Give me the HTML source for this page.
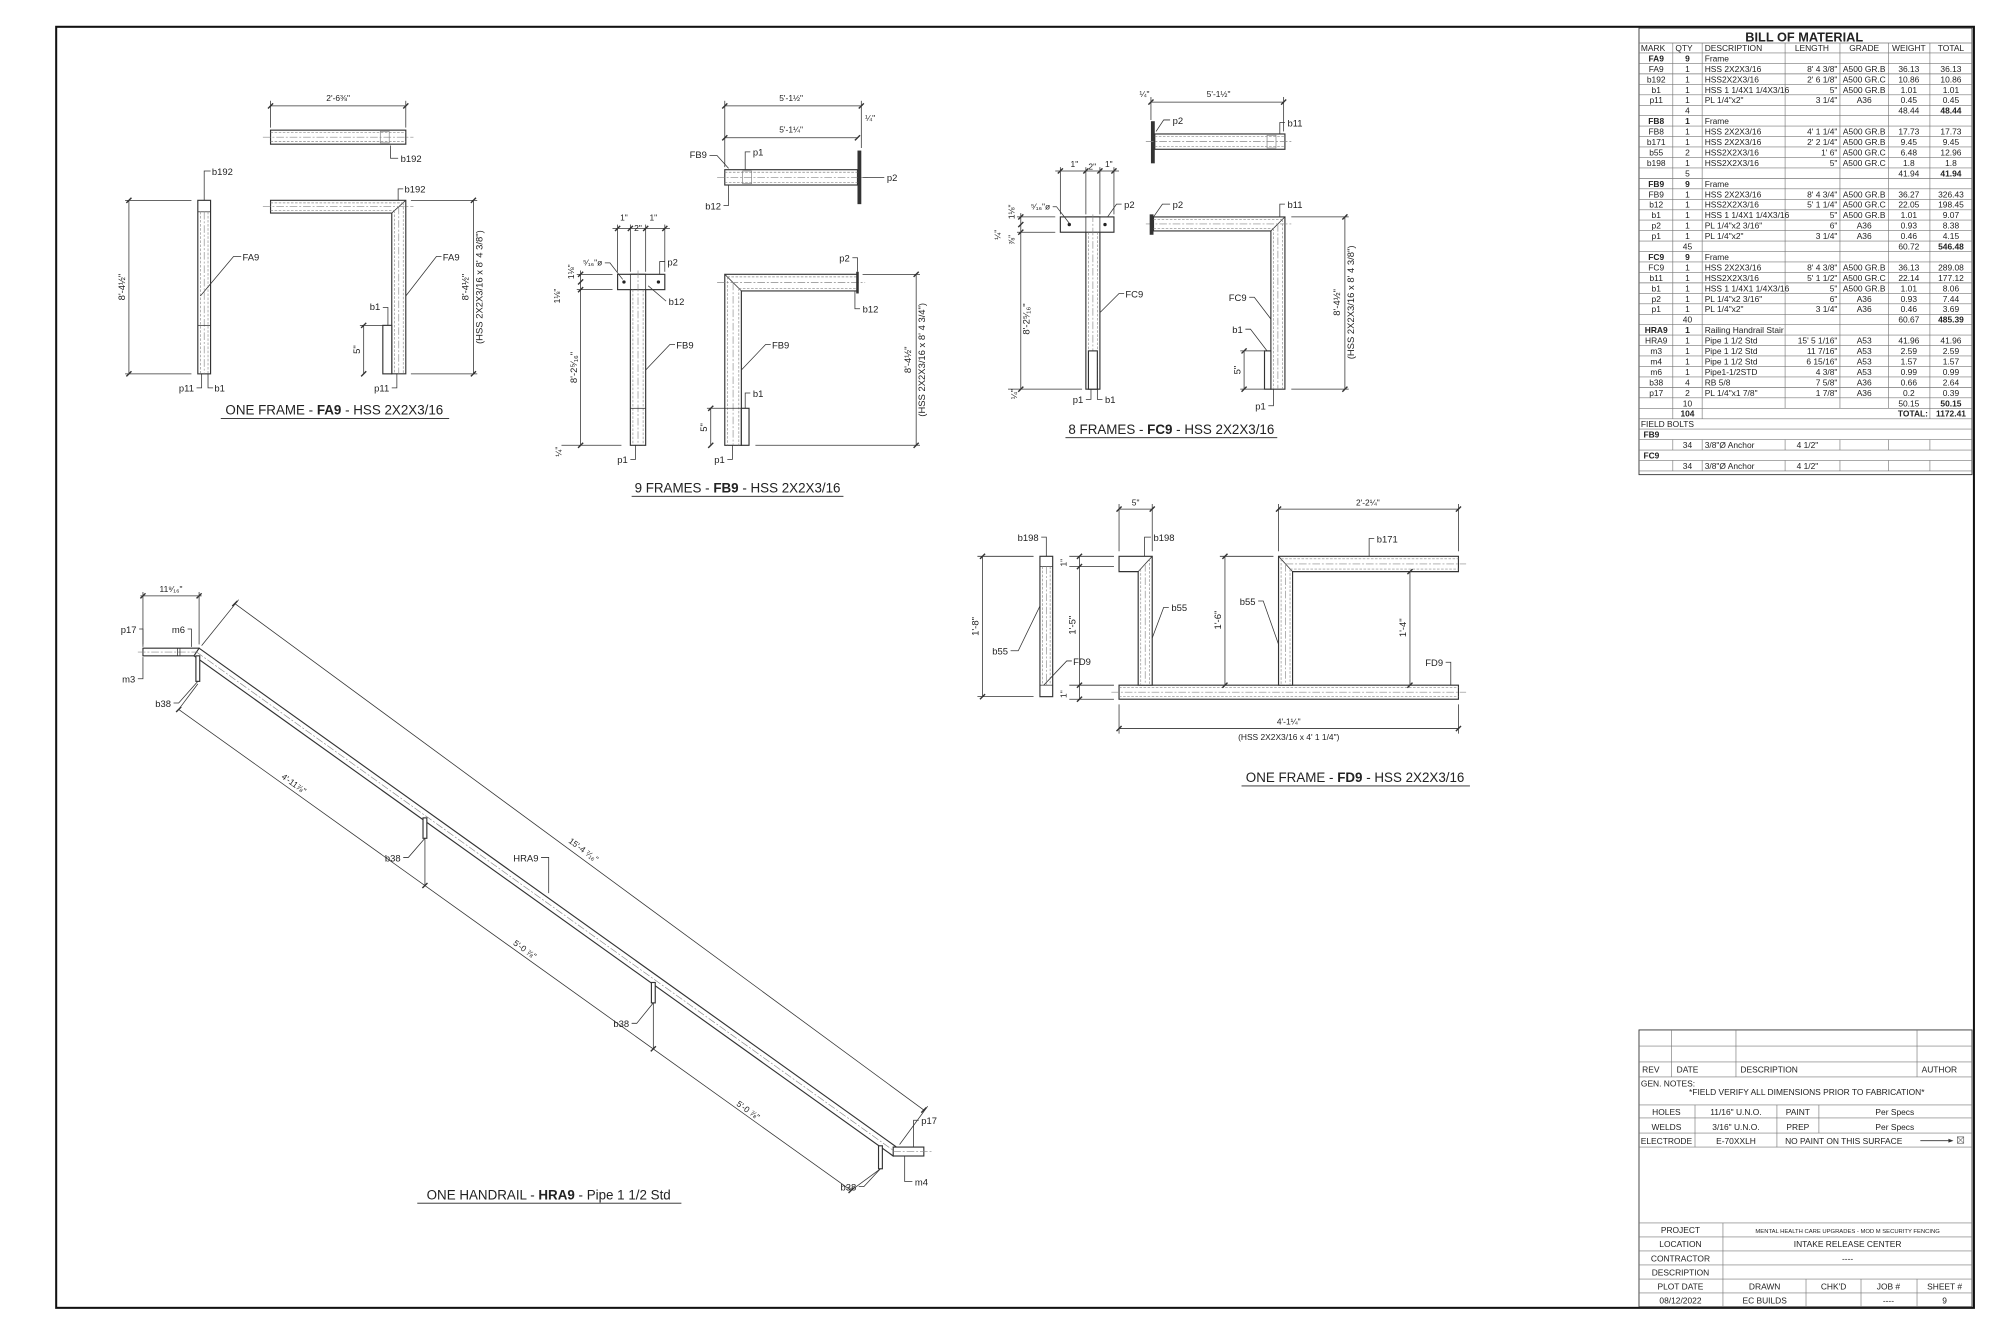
<!DOCTYPE html>
<html><head><meta charset="utf-8"><style>
html,body{margin:0;padding:0;background:#fff;}
svg{display:block}
text{font-family:"Liberation Sans",sans-serif;fill:#222}
.l{stroke:#333;stroke-width:.6;fill:none}
.m{stroke:#333;stroke-width:.9;fill:#fff}
.d{stroke:#888;stroke-width:.5;fill:none;stroke-dasharray:2 1.2}
.c{stroke:#888;stroke-width:.5;fill:none;stroke-dasharray:6 1.5 1.5 1.5}
.t{font-size:7.4px}
.s{font-size:6.6px}
.ti{font-size:10.5px}
.g{stroke:#777;stroke-width:.5;fill:none}
.b{font-size:6.6px}
.bb{font-size:6.6px;font-weight:bold}
.k{stroke:#333;stroke-width:1.1}
</style></head><body>
<svg width="2000" height="1334" viewBox="0 0 1567.4 1045.5" xmlns="http://www.w3.org/2000/svg">
<rect x="44" y="21" width="1503" height="1004" fill="none" stroke="#111" stroke-width="1.6"/>

<!-- ================= FA9 ================= -->
<g>
<line class="l" x1="212" y1="83" x2="318" y2="83"/>
<line class="l" x1="212" y1="79" x2="212" y2="100"/><line class="l" x1="318" y1="79" x2="318" y2="100"/>
<line class="k" x1="210" y1="85" x2="214" y2="81"/><line class="k" x1="316" y1="85" x2="320" y2="81"/>
<text class="s" x="265" y="79" text-anchor="middle">2'-6⅜"</text>
<rect class="m" x="212" y="102" width="106" height="11"/>
<line class="d" x1="212" y1="104" x2="318" y2="104"/><line class="d" x1="212" y1="111" x2="318" y2="111"/>
<line class="c" x1="206" y1="107.5" x2="324" y2="107.5"/>
<rect class="g" x="298" y="103" width="7" height="9"/>
<polyline class="l" points="306,114 306,124 312,124"/><text class="t" x="314" y="127">b192</text>

<rect class="m" x="155" y="157" width="10" height="136"/>
<line class="l" x1="155" y1="166" x2="165" y2="166"/>
<line class="d" x1="157" y1="166" x2="157" y2="293"/><line class="d" x1="163" y1="166" x2="163" y2="293"/>
<line class="c" x1="160" y1="166" x2="160" y2="293"/>
<line class="l" x1="155" y1="255" x2="165" y2="255"/>
<line class="l" x1="101" y1="157" x2="101" y2="293"/>
<line class="l" x1="98" y1="157" x2="150" y2="157"/><line class="l" x1="98" y1="293" x2="150" y2="293"/>
<line class="k" x1="99" y1="159" x2="103" y2="155"/><line class="k" x1="99" y1="295" x2="103" y2="291"/>
<text class="t" transform="translate(98,225) rotate(-90)" text-anchor="middle">8'-4½"</text>
<polyline class="l" points="160,157 160,134 165,134"/><text class="t" x="166" y="137">b192</text>
<polyline class="l" points="157,232 183,201 189,201"/><text class="t" x="190" y="204">FA9</text>
<polyline class="l" points="158,293 158,304 154,304"/><text class="t" x="152" y="307" text-anchor="end">p11</text>
<polyline class="l" points="163,293 163,304 167,304"/><text class="t" x="168" y="307">b1</text>

<path class="m" d="M212,157 H318 V293 H307 V167 H212 Z"/>
<line class="l" x1="307" y1="167" x2="318" y2="157"/>
<line class="d" x1="212" y1="159" x2="316" y2="159"/><line class="d" x1="212" y1="165" x2="309" y2="165"/>
<line class="d" x1="309" y1="165" x2="309" y2="293"/><line class="d" x1="316" y1="159" x2="316" y2="293"/>
<line class="c" x1="206" y1="162" x2="324" y2="162"/><line class="c" x1="312.5" y1="162" x2="312.5" y2="293"/>
<rect class="m" x="300" y="255" width="7" height="38"/>
<line class="l" x1="371" y1="157" x2="371" y2="293"/>
<line class="l" x1="322" y1="157" x2="374" y2="157"/><line class="l" x1="322" y1="293" x2="374" y2="293"/>
<line class="k" x1="369" y1="159" x2="373" y2="155"/><line class="k" x1="369" y1="295" x2="373" y2="291"/>
<text class="t" transform="translate(367,225) rotate(-90)" text-anchor="middle">8'-4½"</text>
<text class="t" transform="translate(378,225) rotate(-90)" text-anchor="middle">(HSS 2X2X3/16 x 8' 4 3/8")</text>
<line class="l" x1="285" y1="255" x2="285" y2="293"/>
<line class="l" x1="282" y1="255" x2="300" y2="255"/>
<line class="k" x1="283" y1="257" x2="287" y2="253"/><line class="k" x1="283" y1="295" x2="287" y2="291"/>
<text class="t" transform="translate(282,274) rotate(-90)" text-anchor="middle">5"</text>
<polyline class="l" points="312,157 312,148 316,148"/><text class="t" x="317" y="151">b192</text>
<polyline class="l" points="318,232 342,201 346,201"/><text class="t" x="347" y="204">FA9</text>
<polyline class="l" points="304,255 304,241 300,241"/><text class="t" x="298" y="243" text-anchor="end">b1</text>
<polyline class="l" points="311,293 311,304 307,304"/><text class="t" x="305" y="307" text-anchor="end">p11</text>
<text class="ti" x="262" y="325" text-anchor="middle">ONE FRAME - <tspan font-weight="bold">FA9</tspan> - HSS 2X2X3/16</text>
<line x1="173" y1="328" x2="352" y2="328" stroke="#222" stroke-width=".7"/>
</g>

<!-- ================= FB9 ================= -->
<g>
<line class="l" x1="568" y1="83" x2="675" y2="83"/><line class="l" x1="568" y1="108" x2="672" y2="108"/>
<line class="l" x1="568" y1="79" x2="568" y2="131"/><line class="l" x1="675" y1="79" x2="675" y2="116"/>
<line class="k" x1="566" y1="85" x2="570" y2="81"/><line class="k" x1="673" y1="85" x2="677" y2="81"/>
<line class="k" x1="566" y1="110" x2="570" y2="106"/><line class="k" x1="670" y1="110" x2="674" y2="106"/>
<text class="s" x="620" y="79" text-anchor="middle">5'-1½"</text>
<text class="s" x="620" y="104" text-anchor="middle">5'-1¼"</text>
<text class="s" x="678" y="95">¼"</text>
<rect class="m" x="568" y="133" width="104" height="12"/>
<line class="d" x1="568" y1="135" x2="672" y2="135"/><line class="d" x1="568" y1="143" x2="672" y2="143"/>
<line class="c" x1="562" y1="139" x2="680" y2="139"/>
<rect class="g" x="582" y="134" width="7" height="10"/>
<rect x="672" y="118" width="3" height="42" fill="#333"/>
<polyline class="l" points="571,132 562,122 556,122"/><text class="t" x="554" y="124" text-anchor="end">FB9</text>
<polyline class="l" points="584,133 584,119 588,119"/><text class="t" x="590" y="122">p1</text>
<polyline class="l" points="571,145 571,161 567,161"/><text class="t" x="565" y="164" text-anchor="end">b12</text>
<polyline class="l" points="676,139 693,139"/><text class="t" x="695" y="142">p2</text>

<rect class="m" x="494" y="215" width="12" height="134"/>
<rect class="m" x="484" y="215" width="37" height="12"/>
<line class="l" x1="494" y1="215" x2="494" y2="227"/><line class="l" x1="506" y1="215" x2="506" y2="227"/>
<line class="d" x1="496" y1="227" x2="496" y2="349"/><line class="d" x1="504" y1="227" x2="504" y2="349"/>
<line class="c" x1="500" y1="212" x2="500" y2="349"/>
<line class="l" x1="494" y1="320" x2="506" y2="320"/>
<circle cx="489" cy="221" r="1.3" fill="#222"/><circle cx="516" cy="221" r="1.3" fill="#222"/>
<line class="l" x1="480" y1="179" x2="525" y2="179"/>
<line class="l" x1="484" y1="176" x2="484" y2="213"/><line class="l" x1="494" y1="176" x2="494" y2="213"/>
<line class="l" x1="506" y1="176" x2="506" y2="213"/><line class="l" x1="521" y1="176" x2="521" y2="213"/>
<line class="k" x1="482" y1="181" x2="486" y2="177"/><line class="k" x1="492" y1="181" x2="496" y2="177"/>
<line class="k" x1="504" y1="181" x2="508" y2="177"/><line class="k" x1="519" y1="181" x2="523" y2="177"/>
<text class="s" x="489" y="173" text-anchor="middle">1"</text><text class="s" x="500" y="181" text-anchor="middle">2"</text><text class="s" x="512" y="173" text-anchor="middle">1"</text>
<line class="l" x1="455" y1="212" x2="455" y2="349"/>
<line class="l" x1="452" y1="215" x2="480" y2="215"/><line class="l" x1="452" y1="227" x2="480" y2="227"/><line class="l" x1="440" y1="349" x2="487" y2="349"/>
<line class="k" x1="453" y1="217" x2="457" y2="213"/><line class="k" x1="453" y1="223" x2="457" y2="219"/><line class="k" x1="453" y1="229" x2="457" y2="225"/><line class="k" x1="453" y1="351" x2="457" y2="347"/>
<text class="s" transform="translate(450,213) rotate(-90)" text-anchor="middle">1⅛"</text>
<text class="s" transform="translate(439,232) rotate(-90)" text-anchor="middle">1⅛"</text>
<text class="t" transform="translate(452,288) rotate(-90)" text-anchor="middle">8'-2⁵⁄₁₆"</text>
<text class="s" transform="translate(440,354) rotate(-90)" text-anchor="middle">¼"</text>
<polyline class="l" points="488,219 478,206 474,206"/><text class="s" x="472" y="208" text-anchor="end">⁵⁄₁₆"ø</text>
<polyline class="l" points="517,215 517,205 521,205"/><text class="t" x="523" y="208">p2</text>
<polyline class="l" points="508,224 522,236"/><text class="t" x="524" y="239">b12</text>
<polyline class="l" points="506,290 525,270 529,270"/><text class="t" x="530" y="273">FB9</text>
<polyline class="l" points="498,349 498,360 494,360"/><text class="t" x="492" y="363" text-anchor="end">p1</text>

<path class="m" d="M568,215 H672 V228 H581 V349 H568 Z"/>
<line class="l" x1="568" y1="215" x2="581" y2="228"/>
<line class="d" x1="570" y1="217" x2="672" y2="217"/><line class="d" x1="579" y1="226" x2="672" y2="226"/>
<line class="d" x1="570" y1="217" x2="570" y2="349"/><line class="d" x1="579" y1="226" x2="579" y2="349"/>
<line class="c" x1="562" y1="221.5" x2="678" y2="221.5"/><line class="c" x1="574.5" y1="221.5" x2="574.5" y2="349"/>
<rect x="671" y="213" width="2" height="17" fill="#333"/>
<rect class="m" x="581" y="320" width="6" height="29"/>
<line class="l" x1="718" y1="215" x2="718" y2="349"/>
<line class="l" x1="676" y1="215" x2="721" y2="215"/><line class="l" x1="592" y1="349" x2="721" y2="349"/>
<line class="k" x1="716" y1="217" x2="720" y2="213"/><line class="k" x1="716" y1="351" x2="720" y2="347"/>
<text class="t" transform="translate(714,282) rotate(-90)" text-anchor="middle">8'-4½"</text>
<text class="t" transform="translate(725,282) rotate(-90)" text-anchor="middle">(HSS 2X2X3/16 x 8' 4 3/4")</text>
<line class="l" x1="557" y1="320" x2="557" y2="349"/><line class="l" x1="554" y1="320" x2="581" y2="320"/>
<line class="k" x1="555" y1="322" x2="559" y2="318"/><line class="k" x1="555" y1="351" x2="559" y2="347"/>
<text class="t" transform="translate(554,335) rotate(-90)" text-anchor="middle">5"</text>
<polyline class="l" points="672,213 672,202 668,202"/><text class="t" x="666" y="205" text-anchor="end">p2</text>
<polyline class="l" points="670,228 670,242 674,242"/><text class="t" x="676" y="245">b12</text>
<polyline class="l" points="581,290 600,270 604,270"/><text class="t" x="605" y="273">FB9</text>
<polyline class="l" points="584,320 584,308 588,308"/><text class="t" x="590" y="311">b1</text>
<polyline class="l" points="574,349 574,360 570,360"/><text class="t" x="568" y="363" text-anchor="end">p1</text>
<text class="ti" x="578" y="386" text-anchor="middle">9 FRAMES - <tspan font-weight="bold">FB9</tspan> - HSS 2X2X3/16</text>
<line x1="495" y1="389" x2="661" y2="389" stroke="#222" stroke-width=".7"/>
</g>

<!-- ================= FC9 ================= -->
<g>
<line class="l" x1="902" y1="80" x2="1006" y2="80"/>
<line class="l" x1="902" y1="76" x2="902" y2="94"/><line class="l" x1="1006" y1="76" x2="1006" y2="103"/>
<line class="k" x1="900" y1="82" x2="904" y2="78"/><line class="k" x1="1004" y1="82" x2="1008" y2="78"/>
<text class="s" x="955" y="76" text-anchor="middle">5'-1½"</text>
<text class="s" x="893" y="76">¼"</text>
<rect x="902" y="95" width="3" height="33" fill="#333"/>
<rect class="m" x="905" y="105" width="102" height="12"/>
<line class="d" x1="905" y1="107" x2="1007" y2="107"/><line class="d" x1="905" y1="115" x2="1007" y2="115"/>
<line class="c" x1="898" y1="111" x2="1012" y2="111"/>
<rect class="g" x="993" y="106" width="7" height="10"/>
<polyline class="l" points="906,103 912,94 917,94"/><text class="t" x="919" y="97">p2</text>
<polyline class="l" points="1003,105 1003,96 1007,96"/><text class="t" x="1009" y="99">b11</text>

<rect class="m" x="851" y="170" width="11" height="135"/>
<rect class="m" x="831" y="170" width="42" height="12"/>
<line class="l" x1="851" y1="170" x2="851" y2="182"/><line class="l" x1="862" y1="170" x2="862" y2="182"/>
<line class="d" x1="853" y1="182" x2="853" y2="305"/><line class="d" x1="860" y1="182" x2="860" y2="305"/>
<line class="c" x1="856.5" y1="168" x2="856.5" y2="305"/>
<rect class="m" x="853" y="275" width="7" height="30"/>
<circle cx="838" cy="176" r="1.3" fill="#222"/><circle cx="866" cy="176" r="1.3" fill="#222"/>
<line class="l" x1="827" y1="134" x2="877" y2="134"/>
<line class="l" x1="831" y1="131" x2="831" y2="168"/><line class="l" x1="851" y1="131" x2="851" y2="168"/>
<line class="l" x1="862" y1="131" x2="862" y2="168"/><line class="l" x1="873" y1="131" x2="873" y2="168"/>
<line class="k" x1="829" y1="136" x2="833" y2="132"/><line class="k" x1="849" y1="136" x2="853" y2="132"/>
<line class="k" x1="860" y1="136" x2="864" y2="132"/><line class="k" x1="871" y1="136" x2="875" y2="132"/>
<text class="s" x="842" y="131" text-anchor="middle">1"</text><text class="s" x="856" y="133" text-anchor="middle">2"</text><text class="s" x="869" y="131" text-anchor="middle">1"</text>
<line class="l" x1="800" y1="167" x2="800" y2="305"/>
<line class="l" x1="797" y1="170" x2="827" y2="170"/><line class="l" x1="797" y1="182" x2="827" y2="182"/><line class="l" x1="790" y1="305" x2="848" y2="305"/>
<line class="k" x1="798" y1="172" x2="802" y2="168"/><line class="k" x1="798" y1="178" x2="802" y2="174"/><line class="k" x1="798" y1="184" x2="802" y2="180"/><line class="k" x1="798" y1="307" x2="802" y2="303"/>
<text class="s" transform="translate(795,166) rotate(-90)" text-anchor="middle">1⅛"</text>
<text class="s" transform="translate(784,184) rotate(-90)" text-anchor="middle">¼"</text>
<text class="s" transform="translate(795,188) rotate(-90)" text-anchor="middle">⅞"</text>
<text class="t" transform="translate(807,250) rotate(-90)" text-anchor="middle">8'-2⁵⁄₁₆"</text>
<text class="s" transform="translate(797,309) rotate(-90)" text-anchor="middle">¼"</text>
<polyline class="l" points="838,175 828,162 825,162"/><text class="s" x="823" y="164" text-anchor="end">⁵⁄₁₆"ø</text>
<polyline class="l" points="868,170 875,160 879,160"/><text class="t" x="881" y="163">p2</text>
<polyline class="l" points="862,245 877,230 881,230"/><text class="t" x="882" y="233">FC9</text>
<polyline class="l" points="855,305 855,313 851,313"/><text class="t" x="849" y="316" text-anchor="end">p1</text>
<polyline class="l" points="860,305 860,313 864,313"/><text class="t" x="866" y="316">b1</text>

<path class="m" d="M904,170 H1007 V305 H996 V181 H904 Z"/>
<line class="l" x1="996" y1="181" x2="1007" y2="170"/>
<line class="d" x1="904" y1="172" x2="1005" y2="172"/><line class="d" x1="904" y1="179" x2="998" y2="179"/>
<line class="d" x1="998" y1="179" x2="998" y2="305"/><line class="d" x1="1005" y1="172" x2="1005" y2="305"/>
<line class="c" x1="898" y1="175.5" x2="1012" y2="175.5"/><line class="c" x1="1001.5" y1="175.5" x2="1001.5" y2="305"/>
<rect x="901" y="168" width="3" height="16" fill="#333"/>
<rect class="m" x="991" y="275" width="5" height="30"/>
<line class="l" x1="1054" y1="170" x2="1054" y2="305"/>
<line class="l" x1="1012" y1="170" x2="1057" y2="170"/><line class="l" x1="1012" y1="305" x2="1057" y2="305"/>
<line class="k" x1="1052" y1="172" x2="1056" y2="168"/><line class="k" x1="1052" y1="307" x2="1056" y2="303"/>
<text class="t" transform="translate(1050,237) rotate(-90)" text-anchor="middle">8'-4½"</text>
<text class="t" transform="translate(1061,237) rotate(-90)" text-anchor="middle">(HSS 2X2X3/16 x 8' 4 3/8")</text>
<line class="l" x1="975" y1="275" x2="975" y2="305"/><line class="l" x1="972" y1="275" x2="991" y2="275"/><line class="l" x1="972" y1="305" x2="991" y2="305"/>
<line class="k" x1="973" y1="277" x2="977" y2="273"/><line class="k" x1="973" y1="307" x2="977" y2="303"/>
<text class="t" transform="translate(972,290) rotate(-90)" text-anchor="middle">5"</text>
<polyline class="l" points="904,170 911,160 917,160"/><text class="t" x="919" y="163">p2</text>
<polyline class="l" points="1003,170 1003,160 1007,160"/><text class="t" x="1009" y="163">b11</text>
<polyline class="l" points="996,250 983,233 979,233"/><text class="t" x="977" y="236" text-anchor="end">FC9</text>
<polyline class="l" points="993,275 980,258 976,258"/><text class="t" x="974" y="261" text-anchor="end">b1</text>
<polyline class="l" points="998,305 998,318 994,318"/><text class="t" x="992" y="321" text-anchor="end">p1</text>
<text class="ti" x="918" y="340" text-anchor="middle">8 FRAMES - <tspan font-weight="bold">FC9</tspan> - HSS 2X2X3/16</text>
<line x1="835" y1="343" x2="1001" y2="343" stroke="#222" stroke-width=".7"/>
</g>

<!-- ================= FD9 ================= -->
<g>
<rect class="m" x="815" y="436" width="10" height="110"/>
<line class="l" x1="815" y1="444" x2="825" y2="444"/><line class="l" x1="815" y1="537" x2="825" y2="537"/>
<line class="d" x1="817" y1="444" x2="817" y2="537"/><line class="d" x1="823" y1="444" x2="823" y2="537"/>
<line class="c" x1="820" y1="444" x2="820" y2="537"/>
<line class="l" x1="770" y1="436" x2="770" y2="546"/>
<line class="l" x1="766" y1="436" x2="810" y2="436"/><line class="l" x1="766" y1="546" x2="810" y2="546"/>
<line class="k" x1="768" y1="438" x2="772" y2="434"/><line class="k" x1="768" y1="548" x2="772" y2="544"/>
<text class="t" transform="translate(767,491) rotate(-90)" text-anchor="middle">1'-8"</text>
<polyline class="l" points="820,436 820,421 816,421"/><text class="t" x="814" y="424" text-anchor="end">b198</text>
<polyline class="l" points="815,475 798,510 792,510"/><text class="t" x="790" y="513" text-anchor="end">b55</text>
<polyline class="l" points="818,537 836,518 840,518"/><text class="t" x="841" y="521">FD9</text>

<rect class="m" x="877" y="537" width="266" height="11"/>
<line class="d" x1="877" y1="539" x2="1143" y2="539"/><line class="d" x1="877" y1="546" x2="1143" y2="546"/>
<line class="c" x1="871" y1="542.5" x2="1149" y2="542.5"/>
<path class="m" d="M877,436 H903 V537 H892 V448 H877 Z"/>
<line class="l" x1="892" y1="448" x2="903" y2="436"/>
<line class="d" x1="894" y1="446" x2="894" y2="537"/><line class="d" x1="901" y1="438" x2="901" y2="537"/>
<line class="c" x1="897.5" y1="442" x2="897.5" y2="537"/>
<path class="m" d="M1002,436 H1143 V448 H1013 V537 H1002 Z"/>
<line class="l" x1="1002" y1="436" x2="1013" y2="448"/>
<line class="d" x1="1004" y1="438" x2="1143" y2="438"/><line class="d" x1="1011" y1="446" x2="1143" y2="446"/>
<line class="d" x1="1004" y1="438" x2="1004" y2="537"/><line class="d" x1="1011" y1="446" x2="1011" y2="537"/>
<line class="c" x1="1007.5" y1="442" x2="1149" y2="442"/><line class="c" x1="1007.5" y1="442" x2="1007.5" y2="537"/>
<line class="l" x1="877" y1="399" x2="903" y2="399"/>
<line class="l" x1="877" y1="395" x2="877" y2="432"/><line class="l" x1="903" y1="395" x2="903" y2="432"/>
<line class="k" x1="875" y1="401" x2="879" y2="397"/><line class="k" x1="901" y1="401" x2="905" y2="397"/>
<text class="s" x="890" y="396" text-anchor="middle">5"</text>
<line class="l" x1="1002" y1="399" x2="1143" y2="399"/>
<line class="l" x1="1002" y1="395" x2="1002" y2="432"/><line class="l" x1="1143" y1="395" x2="1143" y2="432"/>
<line class="k" x1="1000" y1="401" x2="1004" y2="397"/><line class="k" x1="1141" y1="401" x2="1145" y2="397"/>
<text class="s" x="1072" y="396" text-anchor="middle">2'-2¼"</text>
<line class="l" x1="846" y1="436" x2="846" y2="548"/>
<line class="l" x1="838" y1="436" x2="873" y2="436"/><line class="l" x1="838" y1="444" x2="873" y2="444"/>
<line class="l" x1="838" y1="537" x2="873" y2="537"/><line class="l" x1="838" y1="548" x2="873" y2="548"/>
<line class="k" x1="844" y1="438" x2="848" y2="434"/><line class="k" x1="844" y1="446" x2="848" y2="442"/><line class="k" x1="844" y1="539" x2="848" y2="535"/><line class="k" x1="844" y1="550" x2="848" y2="546"/>
<text class="s" transform="translate(836,441) rotate(-90)" text-anchor="middle">1"</text>
<text class="s" transform="translate(836,544) rotate(-90)" text-anchor="middle">1"</text>
<text class="t" transform="translate(843,490) rotate(-90)" text-anchor="middle">1'-5"</text>
<line class="l" x1="960" y1="436" x2="960" y2="537"/>
<line class="l" x1="956" y1="436" x2="998" y2="436"/>
<line class="k" x1="958" y1="438" x2="962" y2="434"/><line class="k" x1="958" y1="539" x2="962" y2="535"/>
<text class="t" transform="translate(957,486) rotate(-90)" text-anchor="middle">1'-6"</text>
<line class="l" x1="1105" y1="448" x2="1105" y2="537"/>
<line class="k" x1="1103" y1="450" x2="1107" y2="446"/><line class="k" x1="1103" y1="539" x2="1107" y2="535"/>
<text class="t" transform="translate(1102,492) rotate(-90)" text-anchor="middle">1'-4"</text>
<line class="l" x1="877" y1="571" x2="1143" y2="571"/>
<line class="l" x1="877" y1="552" x2="877" y2="575"/><line class="l" x1="1143" y1="552" x2="1143" y2="575"/>
<line class="k" x1="875" y1="573" x2="879" y2="569"/><line class="k" x1="1141" y1="573" x2="1145" y2="569"/>
<text class="s" x="1010" y="568" text-anchor="middle">4'-1¼"</text>
<text class="s" x="1010" y="580" text-anchor="middle">(HSS 2X2X3/16 x 4' 1 1/4")</text>
<polyline class="l" points="897,436 897,421 902,421"/><text class="t" x="904" y="424">b198</text>
<polyline class="l" points="903,500 912,476 916,476"/><text class="t" x="918" y="479">b55</text>
<polyline class="l" points="1002,505 990,471 986,471"/><text class="t" x="984" y="474" text-anchor="end">b55</text>
<polyline class="l" points="1073,436 1073,422 1077,422"/><text class="t" x="1079" y="425">b171</text>
<polyline class="l" points="1137,537 1137,519 1133,519"/><text class="t" x="1131" y="522" text-anchor="end">FD9</text>
<text class="ti" x="1062" y="613" text-anchor="middle">ONE FRAME - <tspan font-weight="bold">FD9</tspan> - HSS 2X2X3/16</text>
<line x1="973" y1="616" x2="1152" y2="616" stroke="#222" stroke-width=".7"/>
</g>

<!-- ================= HANDRAIL ================= -->
<g>
<rect class="m" x="112" y="508" width="44" height="6"/>
<line class="c" x1="108" y1="511" x2="156" y2="511"/>
<line class="l" x1="139" y1="508" x2="139" y2="514"/><line class="l" x1="141" y1="508" x2="141" y2="514"/>
<polygon class="m" points="156,508 704,900 700,906 152,514"/>
<line class="c" x1="154" y1="511" x2="702" y2="903"/>
<rect class="m" x="700" y="899" width="24" height="7"/>
<line class="c" x1="700" y1="902.5" x2="730" y2="902.5"/>
<!-- posts -->
<rect class="m" x="153.5" y="514" width="3" height="20"/>
<rect class="m" x="331.5" y="641" width="3" height="16"/>
<rect class="m" x="510.5" y="770" width="3" height="16"/>
<rect class="m" x="688.5" y="898" width="3" height="18"/>
<!-- top dim -->
<line class="l" x1="110" y1="467" x2="158" y2="467"/>
<line class="l" x1="112" y1="464" x2="112" y2="505"/><line class="l" x1="156" y1="464" x2="156" y2="505"/>
<line class="k" x1="110" y1="469" x2="114" y2="465"/><line class="k" x1="154" y1="469" x2="158" y2="465"/>
<text class="s" x="134" y="464" text-anchor="middle">11⁹⁄₁₆"</text>
<polyline class="l" points="112,507 112,493 109,493"/><text class="t" x="107" y="496" text-anchor="end">p17</text>
<polyline class="l" points="150,507 150,493 147,493"/><text class="t" x="145" y="496" text-anchor="end">m6</text>
<polyline class="l" points="112,515 112,532 108,532"/><text class="t" x="106" y="535" text-anchor="end">m3</text>
<polyline class="l" points="155,534 140,551 136,551"/><text class="t" x="134" y="554" text-anchor="end">b38</text>
<!-- long dim -->
<line class="l" x1="184" y1="473" x2="724" y2="870"/>
<line class="l" x1="158" y1="506" x2="187" y2="470"/><line class="l" x1="705" y1="897" x2="727" y2="867"/>
<line class="k" x1="182" y1="475" x2="186" y2="471"/><line class="k" x1="722" y1="872" x2="726" y2="868"/>
<text class="s" transform="translate(456,668) rotate(36.3)" text-anchor="middle">15'-4 ⁷⁄₁₆"</text>
<!-- lower dim -->
<line class="l" x1="140" y1="556" x2="667" y2="933"/>
<line class="l" x1="155" y1="536" x2="140" y2="556"/>
<line class="l" x1="333" y1="657" x2="333" y2="694"/>
<line class="l" x1="512" y1="786" x2="512" y2="822"/>
<line class="l" x1="690" y1="916" x2="667" y2="933"/>
<line class="k" x1="138" y1="558" x2="142" y2="554"/><line class="k" x1="331" y1="696" x2="335" y2="692"/><line class="k" x1="510" y1="824" x2="514" y2="820"/><line class="k" x1="665" y1="935" x2="669" y2="931"/>
<text class="s" transform="translate(229,616) rotate(35.6)" text-anchor="middle">4'-11⅞"</text>
<text class="s" transform="translate(410,746) rotate(35.6)" text-anchor="middle">5'-0 ⅞"</text>
<text class="s" transform="translate(585,872) rotate(35.6)" text-anchor="middle">5'-0 ⅞"</text>
<polyline class="l" points="333,657 320,672 316,672"/><text class="t" x="314" y="675" text-anchor="end">b38</text>
<polyline class="l" points="512,786 499,802 495,802"/><text class="t" x="493" y="805" text-anchor="end">b38</text>
<polyline class="l" points="690,916 677,930 673,930"/><text class="t" x="671" y="933" text-anchor="end">b38</text>
<polyline class="l" points="424,672 430,672 430,700"/><text class="t" x="422" y="675" text-anchor="end">HRA9</text>
<polyline class="l" points="716,899 716,878 720,878"/><text class="t" x="722" y="881">p17</text>
<polyline class="l" points="709,906 709,926 715,926"/><text class="t" x="717" y="929">m4</text>
<text class="ti" x="430" y="940" text-anchor="middle">ONE HANDRAIL - <tspan font-weight="bold">HRA9</tspan> - Pipe 1 1/2 Std</text>
<line x1="327" y1="943" x2="534" y2="943" stroke="#222" stroke-width=".7"/>
</g>

<!-- ================= BILL OF MATERIAL ================= -->
<g>
<rect x="1284.5" y="22" width="261" height="350" fill="none" stroke="#333" stroke-width=".7"/>
<text x="1414" y="32.5" text-anchor="middle" style="font-size:10px;font-weight:bold">BILL OF MATERIAL</text>
<line class="g" x1="1284.5" y1="33.7" x2="1545.5" y2="33.7"/>
<g class="g">
<line x1="1311" y1="33.7" x2="1311" y2="328.2"/><line x1="1334" y1="33.7" x2="1334" y2="328.2"/>
<line x1="1399" y1="33.7" x2="1399" y2="320"/><line x1="1442" y1="33.7" x2="1442" y2="320"/>
<line x1="1480" y1="33.7" x2="1480" y2="320"/><line x1="1512.5" y1="33.7" x2="1512.5" y2="328.2"/>
<line x1="1311" y1="344.5" x2="1311" y2="352.7"/><line x1="1334" y1="344.5" x2="1334" y2="352.7"/><line x1="1399" y1="344.5" x2="1399" y2="352.7"/><line x1="1442" y1="344.5" x2="1442" y2="352.7"/><line x1="1480" y1="344.5" x2="1480" y2="352.7"/><line x1="1512.5" y1="344.5" x2="1512.5" y2="352.7"/>
<line x1="1311" y1="360.9" x2="1311" y2="369.1"/><line x1="1334" y1="360.9" x2="1334" y2="369.1"/><line x1="1399" y1="360.9" x2="1399" y2="369.1"/><line x1="1442" y1="360.9" x2="1442" y2="369.1"/><line x1="1480" y1="360.9" x2="1480" y2="369.1"/><line x1="1512.5" y1="360.9" x2="1512.5" y2="369.1"/>
<line x1="1284.5" y1="41.5" x2="1545.5" y2="41.5"/><line x1="1284.5" y1="49.7" x2="1545.5" y2="49.7"/><line x1="1284.5" y1="57.9" x2="1545.5" y2="57.9"/><line x1="1284.5" y1="66.1" x2="1545.5" y2="66.1"/><line x1="1284.5" y1="74.3" x2="1545.5" y2="74.3"/><line x1="1284.5" y1="82.5" x2="1545.5" y2="82.5"/><line x1="1284.5" y1="90.6" x2="1545.5" y2="90.6"/><line x1="1284.5" y1="98.8" x2="1545.5" y2="98.8"/><line x1="1284.5" y1="107" x2="1545.5" y2="107"/><line x1="1284.5" y1="115.2" x2="1545.5" y2="115.2"/><line x1="1284.5" y1="123.4" x2="1545.5" y2="123.4"/><line x1="1284.5" y1="131.6" x2="1545.5" y2="131.6"/><line x1="1284.5" y1="139.8" x2="1545.5" y2="139.8"/><line x1="1284.5" y1="148" x2="1545.5" y2="148"/><line x1="1284.5" y1="156.2" x2="1545.5" y2="156.2"/><line x1="1284.5" y1="164.4" x2="1545.5" y2="164.4"/><line x1="1284.5" y1="172.5" x2="1545.5" y2="172.5"/><line x1="1284.5" y1="180.7" x2="1545.5" y2="180.7"/><line x1="1284.5" y1="188.9" x2="1545.5" y2="188.9"/><line x1="1284.5" y1="197.1" x2="1545.5" y2="197.1"/><line x1="1284.5" y1="205.3" x2="1545.5" y2="205.3"/><line x1="1284.5" y1="213.5" x2="1545.5" y2="213.5"/><line x1="1284.5" y1="221.7" x2="1545.5" y2="221.7"/><line x1="1284.5" y1="229.9" x2="1545.5" y2="229.9"/><line x1="1284.5" y1="238.1" x2="1545.5" y2="238.1"/><line x1="1284.5" y1="246.3" x2="1545.5" y2="246.3"/><line x1="1284.5" y1="254.4" x2="1545.5" y2="254.4"/><line x1="1284.5" y1="262.6" x2="1545.5" y2="262.6"/><line x1="1284.5" y1="270.8" x2="1545.5" y2="270.8"/><line x1="1284.5" y1="279" x2="1545.5" y2="279"/><line x1="1284.5" y1="287.2" x2="1545.5" y2="287.2"/><line x1="1284.5" y1="295.4" x2="1545.5" y2="295.4"/><line x1="1284.5" y1="303.6" x2="1545.5" y2="303.6"/><line x1="1284.5" y1="311.8" x2="1545.5" y2="311.8"/><line x1="1284.5" y1="320" x2="1545.5" y2="320"/><line x1="1284.5" y1="328.2" x2="1545.5" y2="328.2"/><line x1="1284.5" y1="336.3" x2="1545.5" y2="336.3"/><line x1="1284.5" y1="344.5" x2="1545.5" y2="344.5"/><line x1="1284.5" y1="352.7" x2="1545.5" y2="352.7"/><line x1="1284.5" y1="360.9" x2="1545.5" y2="360.9"/><line x1="1284.5" y1="369.1" x2="1545.5" y2="369.1"/>
</g>
<g class="b">
<text x="1286" y="40">MARK</text><text x="1313" y="40">QTY</text><text x="1336" y="40">DESCRIPTION</text><text x="1420" y="40" text-anchor="middle">LENGTH</text><text x="1461" y="40" text-anchor="middle">GRADE</text><text x="1496" y="40" text-anchor="middle">WEIGHT</text><text x="1529" y="40" text-anchor="middle">TOTAL</text>
</g>
<g class="b">
<text class="bb" x="1298" y="48.1" text-anchor="middle">FA9</text><text class="bb" x="1322.5" y="48.1" text-anchor="middle">9</text><text x="1336" y="48.1">Frame</text>
<text x="1298" y="56.3" text-anchor="middle">FA9</text><text x="1322.5" y="56.3" text-anchor="middle">1</text><text x="1336" y="56.3">HSS 2X2X3/16</text><text x="1440" y="56.3" text-anchor="end">8' 4 3/8"</text><text x="1461" y="56.3" text-anchor="middle">A500 GR.B</text><text x="1496" y="56.3" text-anchor="middle">36.13</text><text x="1529" y="56.3" text-anchor="middle">36.13</text>
<text x="1298" y="64.5" text-anchor="middle">b192</text><text x="1322.5" y="64.5" text-anchor="middle">1</text><text x="1336" y="64.5">HSS2X2X3/16</text><text x="1440" y="64.5" text-anchor="end">2' 6 1/8"</text><text x="1461" y="64.5" text-anchor="middle">A500 GR.C</text><text x="1496" y="64.5" text-anchor="middle">10.86</text><text x="1529" y="64.5" text-anchor="middle">10.86</text>
<text x="1298" y="72.7" text-anchor="middle">b1</text><text x="1322.5" y="72.7" text-anchor="middle">1</text><text x="1336" y="72.7">HSS 1 1/4X1 1/4X3/16</text><text x="1440" y="72.7" text-anchor="end">5"</text><text x="1461" y="72.7" text-anchor="middle">A500 GR.B</text><text x="1496" y="72.7" text-anchor="middle">1.01</text><text x="1529" y="72.7" text-anchor="middle">1.01</text>
<text x="1298" y="80.9" text-anchor="middle">p11</text><text x="1322.5" y="80.9" text-anchor="middle">1</text><text x="1336" y="80.9">PL 1/4"x2"</text><text x="1440" y="80.9" text-anchor="end">3 1/4"</text><text x="1461" y="80.9" text-anchor="middle">A36</text><text x="1496" y="80.9" text-anchor="middle">0.45</text><text x="1529" y="80.9" text-anchor="middle">0.45</text>
<text x="1322.5" y="89.1" text-anchor="middle">4</text><text x="1496" y="89.1" text-anchor="middle">48.44</text><text class="bb" x="1529" y="89.1" text-anchor="middle">48.44</text>

<text class="bb" x="1298" y="97.2" text-anchor="middle">FB8</text><text class="bb" x="1322.5" y="97.2" text-anchor="middle">1</text><text x="1336" y="97.2">Frame</text>
<text x="1298" y="105.4" text-anchor="middle">FB8</text><text x="1322.5" y="105.4" text-anchor="middle">1</text><text x="1336" y="105.4">HSS 2X2X3/16</text><text x="1440" y="105.4" text-anchor="end">4' 1 1/4"</text><text x="1461" y="105.4" text-anchor="middle">A500 GR.B</text><text x="1496" y="105.4" text-anchor="middle">17.73</text><text x="1529" y="105.4" text-anchor="middle">17.73</text>
<text x="1298" y="113.6" text-anchor="middle">b171</text><text x="1322.5" y="113.6" text-anchor="middle">1</text><text x="1336" y="113.6">HSS 2X2X3/16</text><text x="1440" y="113.6" text-anchor="end">2' 2 1/4"</text><text x="1461" y="113.6" text-anchor="middle">A500 GR.B</text><text x="1496" y="113.6" text-anchor="middle">9.45</text><text x="1529" y="113.6" text-anchor="middle">9.45</text>
<text x="1298" y="121.8" text-anchor="middle">b55</text><text x="1322.5" y="121.8" text-anchor="middle">2</text><text x="1336" y="121.8">HSS2X2X3/16</text><text x="1440" y="121.8" text-anchor="end">1' 6"</text><text x="1461" y="121.8" text-anchor="middle">A500 GR.C</text><text x="1496" y="121.8" text-anchor="middle">6.48</text><text x="1529" y="121.8" text-anchor="middle">12.96</text>
<text x="1298" y="130" text-anchor="middle">b198</text><text x="1322.5" y="130" text-anchor="middle">1</text><text x="1336" y="130">HSS2X2X3/16</text><text x="1440" y="130" text-anchor="end">5"</text><text x="1461" y="130" text-anchor="middle">A500 GR.C</text><text x="1496" y="130" text-anchor="middle">1.8</text><text x="1529" y="130" text-anchor="middle">1.8</text>
<text x="1322.5" y="138.2" text-anchor="middle">5</text><text x="1496" y="138.2" text-anchor="middle">41.94</text><text class="bb" x="1529" y="138.2" text-anchor="middle">41.94</text>

<text class="bb" x="1298" y="146.4" text-anchor="middle">FB9</text><text class="bb" x="1322.5" y="146.4" text-anchor="middle">9</text><text x="1336" y="146.4">Frame</text>
<text x="1298" y="154.6" text-anchor="middle">FB9</text><text x="1322.5" y="154.6" text-anchor="middle">1</text><text x="1336" y="154.6">HSS 2X2X3/16</text><text x="1440" y="154.6" text-anchor="end">8' 4 3/4"</text><text x="1461" y="154.6" text-anchor="middle">A500 GR.B</text><text x="1496" y="154.6" text-anchor="middle">36.27</text><text x="1529" y="154.6" text-anchor="middle">326.43</text>
<text x="1298" y="162.8" text-anchor="middle">b12</text><text x="1322.5" y="162.8" text-anchor="middle">1</text><text x="1336" y="162.8">HSS2X2X3/16</text><text x="1440" y="162.8" text-anchor="end">5' 1 1/4"</text><text x="1461" y="162.8" text-anchor="middle">A500 GR.C</text><text x="1496" y="162.8" text-anchor="middle">22.05</text><text x="1529" y="162.8" text-anchor="middle">198.45</text>
<text x="1298" y="171" text-anchor="middle">b1</text><text x="1322.5" y="171" text-anchor="middle">1</text><text x="1336" y="171">HSS 1 1/4X1 1/4X3/16</text><text x="1440" y="171" text-anchor="end">5"</text><text x="1461" y="171" text-anchor="middle">A500 GR.B</text><text x="1496" y="171" text-anchor="middle">1.01</text><text x="1529" y="171" text-anchor="middle">9.07</text>
<text x="1298" y="179.1" text-anchor="middle">p2</text><text x="1322.5" y="179.1" text-anchor="middle">1</text><text x="1336" y="179.1">PL 1/4"x2 3/16"</text><text x="1440" y="179.1" text-anchor="end">6"</text><text x="1461" y="179.1" text-anchor="middle">A36</text><text x="1496" y="179.1" text-anchor="middle">0.93</text><text x="1529" y="179.1" text-anchor="middle">8.38</text>
<text x="1298" y="187.3" text-anchor="middle">p1</text><text x="1322.5" y="187.3" text-anchor="middle">1</text><text x="1336" y="187.3">PL 1/4"x2"</text><text x="1440" y="187.3" text-anchor="end">3 1/4"</text><text x="1461" y="187.3" text-anchor="middle">A36</text><text x="1496" y="187.3" text-anchor="middle">0.46</text><text x="1529" y="187.3" text-anchor="middle">4.15</text>
<text x="1322.5" y="195.5" text-anchor="middle">45</text><text x="1496" y="195.5" text-anchor="middle">60.72</text><text class="bb" x="1529" y="195.5" text-anchor="middle">546.48</text>

<text class="bb" x="1298" y="203.7" text-anchor="middle">FC9</text><text class="bb" x="1322.5" y="203.7" text-anchor="middle">9</text><text x="1336" y="203.7">Frame</text>
<text x="1298" y="211.9" text-anchor="middle">FC9</text><text x="1322.5" y="211.9" text-anchor="middle">1</text><text x="1336" y="211.9">HSS 2X2X3/16</text><text x="1440" y="211.9" text-anchor="end">8' 4 3/8"</text><text x="1461" y="211.9" text-anchor="middle">A500 GR.B</text><text x="1496" y="211.9" text-anchor="middle">36.13</text><text x="1529" y="211.9" text-anchor="middle">289.08</text>
<text x="1298" y="220.1" text-anchor="middle">b11</text><text x="1322.5" y="220.1" text-anchor="middle">1</text><text x="1336" y="220.1">HSS2X2X3/16</text><text x="1440" y="220.1" text-anchor="end">5' 1 1/2"</text><text x="1461" y="220.1" text-anchor="middle">A500 GR.C</text><text x="1496" y="220.1" text-anchor="middle">22.14</text><text x="1529" y="220.1" text-anchor="middle">177.12</text>
<text x="1298" y="228.3" text-anchor="middle">b1</text><text x="1322.5" y="228.3" text-anchor="middle">1</text><text x="1336" y="228.3">HSS 1 1/4X1 1/4X3/16</text><text x="1440" y="228.3" text-anchor="end">5"</text><text x="1461" y="228.3" text-anchor="middle">A500 GR.B</text><text x="1496" y="228.3" text-anchor="middle">1.01</text><text x="1529" y="228.3" text-anchor="middle">8.06</text>
<text x="1298" y="236.5" text-anchor="middle">p2</text><text x="1322.5" y="236.5" text-anchor="middle">1</text><text x="1336" y="236.5">PL 1/4"x2 3/16"</text><text x="1440" y="236.5" text-anchor="end">6"</text><text x="1461" y="236.5" text-anchor="middle">A36</text><text x="1496" y="236.5" text-anchor="middle">0.93</text><text x="1529" y="236.5" text-anchor="middle">7.44</text>
<text x="1298" y="244.7" text-anchor="middle">p1</text><text x="1322.5" y="244.7" text-anchor="middle">1</text><text x="1336" y="244.7">PL 1/4"x2"</text><text x="1440" y="244.7" text-anchor="end">3 1/4"</text><text x="1461" y="244.7" text-anchor="middle">A36</text><text x="1496" y="244.7" text-anchor="middle">0.46</text><text x="1529" y="244.7" text-anchor="middle">3.69</text>
<text x="1322.5" y="252.9" text-anchor="middle">40</text><text x="1496" y="252.9" text-anchor="middle">60.67</text><text class="bb" x="1529" y="252.9" text-anchor="middle">485.39</text>

<text class="bb" x="1298" y="261" text-anchor="middle">HRA9</text><text class="bb" x="1322.5" y="261" text-anchor="middle">1</text><text x="1336" y="261">Railing Handrail Stair</text>
<text x="1298" y="269.2" text-anchor="middle">HRA9</text><text x="1322.5" y="269.2" text-anchor="middle">1</text><text x="1336" y="269.2">Pipe 1 1/2 Std</text><text x="1440" y="269.2" text-anchor="end">15' 5 1/16"</text><text x="1461" y="269.2" text-anchor="middle">A53</text><text x="1496" y="269.2" text-anchor="middle">41.96</text><text x="1529" y="269.2" text-anchor="middle">41.96</text>
<text x="1298" y="277.4" text-anchor="middle">m3</text><text x="1322.5" y="277.4" text-anchor="middle">1</text><text x="1336" y="277.4">Pipe 1 1/2 Std</text><text x="1440" y="277.4" text-anchor="end">11 7/16"</text><text x="1461" y="277.4" text-anchor="middle">A53</text><text x="1496" y="277.4" text-anchor="middle">2.59</text><text x="1529" y="277.4" text-anchor="middle">2.59</text>
<text x="1298" y="285.6" text-anchor="middle">m4</text><text x="1322.5" y="285.6" text-anchor="middle">1</text><text x="1336" y="285.6">Pipe 1 1/2 Std</text><text x="1440" y="285.6" text-anchor="end">6 15/16"</text><text x="1461" y="285.6" text-anchor="middle">A53</text><text x="1496" y="285.6" text-anchor="middle">1.57</text><text x="1529" y="285.6" text-anchor="middle">1.57</text>
<text x="1298" y="293.8" text-anchor="middle">m6</text><text x="1322.5" y="293.8" text-anchor="middle">1</text><text x="1336" y="293.8">Pipe1-1/2STD</text><text x="1440" y="293.8" text-anchor="end">4 3/8"</text><text x="1461" y="293.8" text-anchor="middle">A53</text><text x="1496" y="293.8" text-anchor="middle">0.99</text><text x="1529" y="293.8" text-anchor="middle">0.99</text>
<text x="1298" y="302" text-anchor="middle">b38</text><text x="1322.5" y="302" text-anchor="middle">4</text><text x="1336" y="302">RB 5/8</text><text x="1440" y="302" text-anchor="end">7 5/8"</text><text x="1461" y="302" text-anchor="middle">A36</text><text x="1496" y="302" text-anchor="middle">0.66</text><text x="1529" y="302" text-anchor="middle">2.64</text>
<text x="1298" y="310.2" text-anchor="middle">p17</text><text x="1322.5" y="310.2" text-anchor="middle">2</text><text x="1336" y="310.2">PL 1/4"x1 7/8"</text><text x="1440" y="310.2" text-anchor="end">1 7/8"</text><text x="1461" y="310.2" text-anchor="middle">A36</text><text x="1496" y="310.2" text-anchor="middle">0.2</text><text x="1529" y="310.2" text-anchor="middle">0.39</text>
<text x="1322.5" y="318.4" text-anchor="middle">10</text><text x="1496" y="318.4" text-anchor="middle">50.15</text><text class="bb" x="1529" y="318.4" text-anchor="middle">50.15</text>
<text class="bb" x="1322.5" y="326.6" text-anchor="middle">104</text><text class="bb" x="1511" y="326.6" text-anchor="end">TOTAL:</text><text class="bb" x="1529" y="326.6" text-anchor="middle">1172.41</text>
<text x="1286" y="334.8">FIELD BOLTS</text>
<text class="bb" x="1288" y="342.9">FB9</text>
<text x="1322.5" y="351.1" text-anchor="middle">34</text><text x="1336" y="351.1">3/8"Ø Anchor</text><text x="1425" y="351.1" text-anchor="end">4 1/2"</text>
<text class="bb" x="1288" y="359.3">FC9</text>
<text x="1322.5" y="367.5" text-anchor="middle">34</text><text x="1336" y="367.5">3/8"Ø Anchor</text><text x="1425" y="367.5" text-anchor="end">4 1/2"</text>
</g>
</g>

<!-- ================= TITLE BLOCK ================= -->
<g>
<rect x="1284.5" y="807.2" width="261" height="217" fill="none" stroke="#333" stroke-width=".7"/>
<g class="g">
<line x1="1284.5" y1="819.8" x2="1545.5" y2="819.8"/><line x1="1284.5" y1="832.3" x2="1545.5" y2="832.3"/><line x1="1284.5" y1="844" x2="1545.5" y2="844"/><line x1="1284.5" y1="866" x2="1545.5" y2="866"/>
<line x1="1284.5" y1="876.2" x2="1545.5" y2="876.2"/><line x1="1284.5" y1="888" x2="1545.5" y2="888"/><line x1="1284.5" y1="899" x2="1545.5" y2="899"/>
<line x1="1284.5" y1="958.5" x2="1545.5" y2="958.5"/><line x1="1284.5" y1="969.4" x2="1545.5" y2="969.4"/><line x1="1284.5" y1="980.4" x2="1545.5" y2="980.4"/><line x1="1284.5" y1="991.4" x2="1545.5" y2="991.4"/><line x1="1284.5" y1="1002.4" x2="1545.5" y2="1002.4"/><line x1="1284.5" y1="1013.3" x2="1545.5" y2="1013.3"/>
<line x1="1310" y1="807.2" x2="1310" y2="844"/><line x1="1360.5" y1="807.2" x2="1360.5" y2="844"/><line x1="1502.4" y1="807.2" x2="1502.4" y2="844"/>
<line x1="1328.4" y1="866" x2="1328.4" y2="899"/><line x1="1392.6" y1="866" x2="1392.6" y2="899"/><line x1="1425.5" y1="866" x2="1425.5" y2="888"/>
<line x1="1350.3" y1="958.5" x2="1350.3" y2="1024.3"/><line x1="1415.4" y1="1002.4" x2="1415.4" y2="1024.3"/><line x1="1458.5" y1="1002.4" x2="1458.5" y2="1024.3"/><line x1="1502.4" y1="1002.4" x2="1502.4" y2="1024.3"/>
</g>
<g class="b">
<text x="1287" y="840.5">REV</text><text x="1314" y="840.5">DATE</text><text x="1364" y="840.5">DESCRIPTION</text><text x="1506" y="840.5">AUTHOR</text>
<text x="1286" y="851.5">GEN. NOTES:</text>
<text x="1416" y="858" text-anchor="middle">*FIELD VERIFY ALL DIMENSIONS PRIOR TO FABRICATION*</text>
<text x="1306" y="874" text-anchor="middle">HOLES</text><text x="1360.5" y="874" text-anchor="middle">11/16" U.N.O.</text><text x="1409" y="874" text-anchor="middle">PAINT</text><text x="1485" y="874" text-anchor="middle">Per Specs</text>
<text x="1306" y="885.5" text-anchor="middle">WELDS</text><text x="1360.5" y="885.5" text-anchor="middle">3/16" U.N.O.</text><text x="1409" y="885.5" text-anchor="middle">PREP</text><text x="1485" y="885.5" text-anchor="middle">Per Specs</text>
<text x="1306" y="896.5" text-anchor="middle">ELECTRODE</text><text x="1360.5" y="896.5" text-anchor="middle">E-70XXLH</text><text x="1399" y="896.5">NO PAINT ON THIS SURFACE</text>
<text x="1317" y="966.5" text-anchor="middle">PROJECT</text><text x="1448" y="966.5" text-anchor="middle" style="font-size:4.6px">MENTAL HEALTH CARE UPGRADES - MOD M SECURITY FENCING</text>
<text x="1317" y="977.5" text-anchor="middle">LOCATION</text><text x="1448" y="977.5" text-anchor="middle">INTAKE RELEASE CENTER</text>
<text x="1317" y="988.5" text-anchor="middle">CONTRACTOR</text><text x="1448" y="988.5" text-anchor="middle">----</text>
<text x="1317" y="999.5" text-anchor="middle">DESCRIPTION</text>
<text x="1317" y="1010.5" text-anchor="middle">PLOT DATE</text><text x="1383" y="1010.5" text-anchor="middle">DRAWN</text><text x="1437" y="1010.5" text-anchor="middle">CHK'D</text><text x="1480" y="1010.5" text-anchor="middle">JOB #</text><text x="1524" y="1010.5" text-anchor="middle">SHEET #</text>
<text x="1317" y="1021.5" text-anchor="middle">08/12/2022</text><text x="1383" y="1021.5" text-anchor="middle">EC BUILDS</text><text x="1480" y="1021.5" text-anchor="middle">----</text><text x="1524" y="1021.5" text-anchor="middle">9</text>
</g>
<line class="l" x1="1505" y1="894" x2="1527" y2="894"/><polygon points="1527,892.5 1531,894 1527,895.5" fill="#333"/>
<rect x="1534" y="891" width="5" height="5" fill="none" stroke="#555" stroke-width=".5"/>
<line x1="1534" y1="891" x2="1539" y2="896" stroke="#555" stroke-width=".4"/><line x1="1539" y1="891" x2="1534" y2="896" stroke="#555" stroke-width=".4"/>
</g>
</svg>
</body></html>
